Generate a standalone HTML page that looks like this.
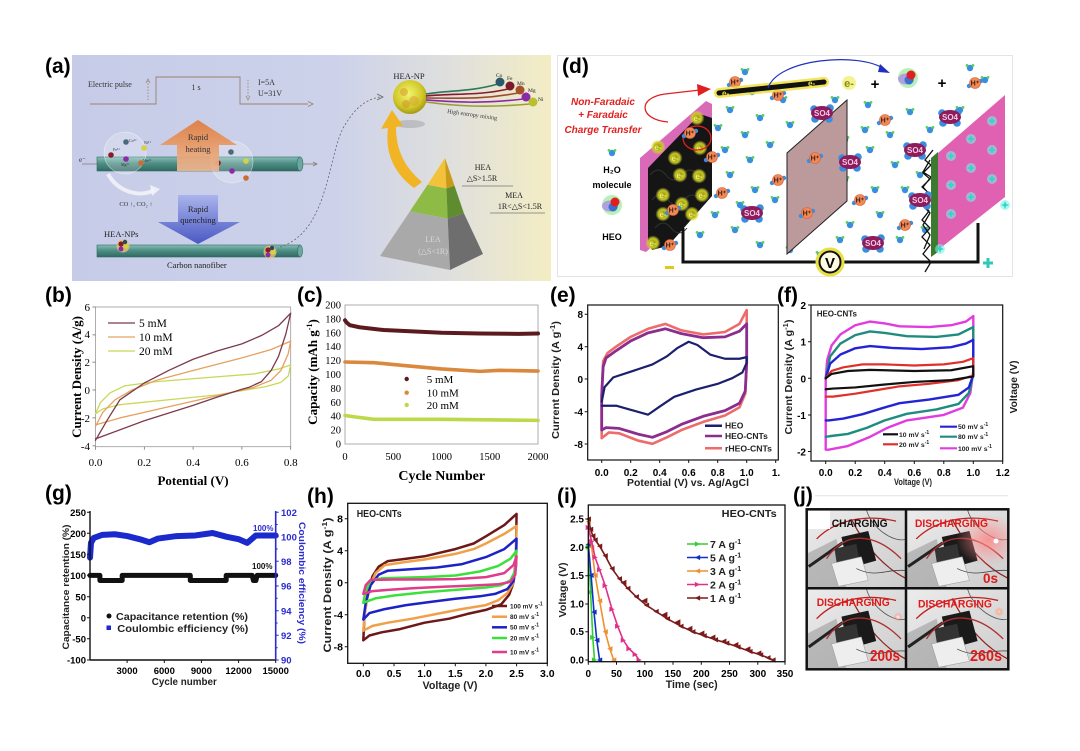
<!DOCTYPE html>
<html><head><meta charset="utf-8"><style>
html,body{margin:0;padding:0;background:#fff;}
svg{display:block}
text{font-family:"Liberation Sans",sans-serif;}
.sf,.sf text,text.sf{font-family:"Liberation Serif",serif;}
.bd{font-weight:bold;}
.ln{fill:none;vector-effect:non-scaling-stroke;stroke-linejoin:round;stroke-linecap:round;}
</style></head><body>
<svg width="1080" height="751" viewBox="0 0 1080 751" xmlns="http://www.w3.org/2000/svg">
<defs>
<linearGradient id="agrad" x1="0" x2="1" y1="0" y2="0"><stop offset="0" stop-color="#c6cce8"/><stop offset="0.55" stop-color="#cdd2ea"/><stop offset="0.8" stop-color="#e0e0dc"/><stop offset="1" stop-color="#f3edc4"/></linearGradient>
<linearGradient id="tube" x1="0" x2="0" y1="0" y2="1"><stop offset="0" stop-color="#86c0b8"/><stop offset="0.45" stop-color="#4f8f86"/><stop offset="1" stop-color="#2f6a62"/></linearGradient>
<linearGradient id="og" x1="0" x2="0" y1="0" y2="1"><stop offset="0" stop-color="#e07a3a"/><stop offset="1" stop-color="#f0b890"/></linearGradient>
<linearGradient id="bg" x1="0" x2="0" y1="0" y2="1"><stop offset="0" stop-color="#aab4ec"/><stop offset="1" stop-color="#4a58c4"/></linearGradient>
<radialGradient id="ball" cx="0.45" cy="0.4" r="0.6"><stop offset="0" stop-color="#f4f470"/><stop offset="0.7" stop-color="#d0c828"/><stop offset="1" stop-color="#a89818"/></radialGradient>
<radialGradient id="yg"><stop offset="0" stop-color="#8a8a10"/><stop offset="0.6" stop-color="#c8c820"/><stop offset="1" stop-color="#e8e840" stop-opacity="0"/></radialGradient>
<radialGradient id="pg" cx="0.5" cy="0.5" r="0.5"><stop offset="0" stop-color="#ff8080" stop-opacity="0.8"/><stop offset="1" stop-color="#ff9090" stop-opacity="0"/></radialGradient>
<linearGradient id="phbg" x1="0" x2="1" y1="0" y2="1"><stop offset="0" stop-color="#ececec"/><stop offset="1" stop-color="#cccccc"/></linearGradient>
<clipPath id="c2"><rect x="906" y="509.3" width="102.3" height="79"/></clipPath>
<g id="w"><circle r="3.2" fill="#3a8ee0"/><circle cx="-3" cy="-2.6" r="1.4" fill="#5ad05a"/><circle cx="3" cy="-2.6" r="1.4" fill="#5ad05a"/></g>
<g id="hp"><circle cx="-6" cy="3" r="2.2" fill="#3a8ee0"/><circle cx="6" cy="-2" r="2.2" fill="#3a8ee0"/><circle r="5.5" fill="#f08858" stroke="#d86038" stroke-width="0.6"/></g>
<g id="so"><circle cx="-8" cy="-4" r="3.8" fill="#3a8ee0"/><circle cx="8" cy="-5" r="3.8" fill="#3a8ee0"/><circle cx="-7" cy="6" r="3.8" fill="#3a8ee0"/><circle cx="7" cy="6" r="3.8" fill="#3a8ee0"/><ellipse rx="11" ry="7" fill="#8c1c5c"/></g>
<g id="heo"><circle r="10" fill="#60e060" opacity=".45"/><ellipse cx="-2" cy="1" rx="8" ry="5.5" fill="#b0a0e0"/><circle cx="1" cy="2" r="4.5" fill="#3a70d0"/><circle cx="3" cy="-3" r="4.5" fill="#e02020"/></g>
<g id="dm"><circle r="5" fill="#7ff0e8" opacity=".6"/><polygon points="0,-4 1.6,0 0,4 -1.6,0" fill="#30d8c8"/><polygon points="-4,0 0,-1.6 4,0 0,1.6" fill="#30d8c8"/></g>
<g id="eg"><circle r="7.5" fill="url(#yg)"/></g>
<symbol id="ph" viewBox="0 0 100 80" preserveAspectRatio="none">
<rect width="100" height="80" fill="url(#phbg)"/>
<polygon points="0,45 30,30 40,80 0,80" fill="#888" opacity=".45"/>
<path d="M45,10 C60,40 80,60 100,70" stroke="#902020" stroke-width="1.2" fill="none"/>
<polygon points="35,28 62,22 70,52 42,60" fill="#1a1a1a"/>
<polygon points="28,40 50,35 55,62 32,66" fill="#333"/>
<polygon points="25,55 55,48 62,72 32,78" fill="#eeeeee" stroke="#999" stroke-width="0.5"/>
<line x1="2" y1="58" x2="36" y2="34" stroke="#222" stroke-width="3"/>
<path d="M10,30 C30,10 60,5 90,12" stroke="#c02020" stroke-width="1.3" fill="none"/>
<path d="M20,50 C40,20 70,25 95,50" stroke="#b03030" stroke-width="1.3" fill="none"/>
<path d="M60,0 C65,20 90,35 100,30" stroke="#555" stroke-width="0.8" fill="none"/>
<path d="M50,60 C70,70 80,60 100,62" stroke="#444" stroke-width="0.8" fill="none"/>
</symbol>
<marker id="mL1" viewBox="-4 -4 8 8" markerWidth="7" markerHeight="7" markerUnits="userSpaceOnUse"><path d="M-3,0 L3,-3 L3,3Z" fill="#7a1a1a"/></marker>
<marker id="mR2" viewBox="-4 -4 8 8" markerWidth="7" markerHeight="7" markerUnits="userSpaceOnUse"><path d="M3,0 L-3,-3 L-3,3Z" fill="#e0308a"/></marker>
<marker id="mL3" viewBox="-4 -4 8 8" markerWidth="7" markerHeight="7" markerUnits="userSpaceOnUse"><path d="M-3,0 L3,-3 L3,3Z" fill="#f09030"/></marker>
<marker id="mL5" viewBox="-4 -4 8 8" markerWidth="7" markerHeight="7" markerUnits="userSpaceOnUse"><path d="M-3,0 L3,-3 L3,3Z" fill="#1030c8"/></marker>
<marker id="mR7" viewBox="-4 -4 8 8" markerWidth="7" markerHeight="7" markerUnits="userSpaceOnUse"><path d="M3,0 L-3,-3 L-3,3Z" fill="#30d030"/></marker>
</defs>
<rect width="1080" height="751" fill="#fff"/>

<!-- ============ PANEL A ============ -->
<rect x="72" y="55" width="479" height="226" fill="url(#agrad)"/>
<polyline points="90,104 156,104 156,77 240,77 240,104 308,104" fill="none" stroke="#9a8070" stroke-width="0.9"/>
<path d="M308,101.5 L313,104 L308,106.5" fill="none" stroke="#9a8070" stroke-width="0.9"/>
<line x1="148" y1="100" x2="148" y2="81" stroke="#9a8070" stroke-dasharray="1.5,1.5" stroke-width="0.8"/>
<path d="M146,83 L148,79 L150,83" fill="none" stroke="#9a8070" stroke-width="0.7"/>
<line x1="248" y1="80" x2="248" y2="98" stroke="#9a8070" stroke-dasharray="1.5,1.5" stroke-width="0.8"/>
<path d="M246,96 L248,100 L250,96" fill="none" stroke="#9a8070" stroke-width="0.7"/>
<text x="88" y="87" class="sf" font-size="8" fill="#333">Electric pulse</text>
<text x="196" y="90" class="sf" font-size="8" fill="#333" text-anchor="middle">1 s</text>
<text x="258" y="85" class="sf" font-size="8" fill="#333">I=5A</text>
<text x="258" y="96" class="sf" font-size="8" fill="#333">U=31V</text>
<line x1="82" y1="164" x2="97" y2="164" stroke="#8a7a70" stroke-width="0.8"/>
<text x="79" y="162" class="sf" font-size="7" fill="#333">e⁻</text>
<rect x="97" y="157" width="203" height="14" fill="url(#tube)" stroke="#2f6a62" stroke-width="0.6"/>
<ellipse cx="300" cy="164" rx="3" ry="7" fill="#6aa8a0" stroke="#2f6a62" stroke-width="0.6"/>
<line x1="303" y1="164" x2="316" y2="164" stroke="#8a7a70" stroke-width="0.8"/>
<path d="M313,162 L317,164 L313,166" fill="none" stroke="#8a7a70" stroke-width="0.8"/>
<circle cx="125" cy="153" r="21" fill="#fff" fill-opacity="0.22" stroke="#fff" stroke-opacity="0.6" stroke-width="0.6"/>
<circle cx="232" cy="162" r="21" fill="#fff" fill-opacity="0.22" stroke="#fff" stroke-opacity="0.6" stroke-width="0.6"/>
<circle cx="111" cy="155" r="2.8" fill="#8a1a2a"/><circle cx="126" cy="142" r="2.8" fill="#4a6a7a"/><circle cx="144" cy="148" r="2.8" fill="#d8d040"/><circle cx="126" cy="159" r="2.8" fill="#8a2aa8"/><circle cx="141" cy="163" r="2.8" fill="#c87030"/>
<circle cx="218" cy="163" r="2.8" fill="#8a1a2a"/><circle cx="231" cy="152" r="2.8" fill="#4a6a7a"/><circle cx="246" cy="161" r="2.8" fill="#d8d040"/><circle cx="232" cy="171" r="2.8" fill="#8a2aa8"/><circle cx="246" cy="178" r="2.8" fill="#c87030"/>
<text x="113" y="151" class="sf" font-size="4" fill="#333">Fe²⁺</text><text x="129" y="142" class="sf" font-size="4" fill="#333">Co²⁺</text><text x="144" y="144" class="sf" font-size="4" fill="#333">Ni²⁺</text><text x="121" y="166" class="sf" font-size="4" fill="#333">Mg²⁺</text><text x="143" y="162" class="sf" font-size="4" fill="#333">Mn²⁺</text>
<polygon points="198,120 237,145 219,145 219,171 177,171 177,145 160,145" fill="url(#og)" opacity=".92"/>
<text x="198" y="140" class="sf" font-size="8.5" fill="#333" text-anchor="middle">Rapid</text>
<text x="198" y="152" class="sf" font-size="8.5" fill="#333" text-anchor="middle">heating</text>
<path d="M108,174 C118,192 140,198 154,190" stroke="#f4f4f8" stroke-width="4" fill="none" opacity=".85"/>
<polygon points="150,185 160,189 152,196" fill="#f4f4f8" opacity=".85"/>
<text x="136" y="206" class="sf" font-size="6.5" fill="#333" text-anchor="middle">CO ↑, CO₂ ↑</text>
<polygon points="178,195 218,195 218,222 240,222 198,244 158,222 178,222" fill="url(#bg)"/>
<text x="198" y="212" class="sf" font-size="8.5" fill="#222" text-anchor="middle">Rapid</text>
<text x="198" y="223" class="sf" font-size="8.5" fill="#222" text-anchor="middle">quenching</text>
<rect x="97" y="245" width="203" height="12" fill="url(#tube)" stroke="#2f6a62" stroke-width="0.6"/>
<ellipse cx="300" cy="251" rx="2.5" ry="6" fill="#6aa8a0" stroke="#2f6a62" stroke-width="0.6"/>
<circle cx="123" cy="246" r="6.5" fill="#e8c070" opacity=".8"/><circle cx="121" cy="244" r="2.6" fill="#8a1a2a"/><circle cx="126" cy="246" r="2.6" fill="#d8d040"/><circle cx="121" cy="249" r="2.4" fill="#8a2aa8"/><circle cx="125" cy="242" r="2.2" fill="#2a4a5a"/>
<circle cx="270" cy="252" r="6.5" fill="#e8c070" opacity=".8"/><circle cx="268" cy="250" r="2.6" fill="#8a1a2a"/><circle cx="273" cy="252" r="2.6" fill="#d8d040"/><circle cx="268" cy="255" r="2.4" fill="#8a2aa8"/><circle cx="272" cy="248" r="2.2" fill="#2a4a5a"/>
<text x="104" y="237" class="sf" font-size="8.5" fill="#222">HEA-NPs</text>
<text x="167" y="268" class="sf" font-size="8.5" fill="#222">Carbon nanofiber</text>
<path d="M280,247 C330,232 328,150 345,125 C356,106 368,99 380,97" stroke="#666" stroke-dasharray="2,2" stroke-width="0.8" fill="none"/>
<path d="M377,94 L383,97 L377,100" fill="none" stroke="#666" stroke-width="0.8"/>
<ellipse cx="410" cy="124" rx="15" ry="4" fill="#888" opacity=".35"/>
<circle cx="410" cy="97" r="17" fill="url(#ball)"/>
<circle cx="404" cy="92" r="4" fill="#d8a030" opacity=".6"/><circle cx="414" cy="101" r="5" fill="#d8a030" opacity=".5"/><circle cx="406" cy="104" r="4" fill="#c8902a" opacity=".5"/>
<text x="409" y="79" class="sf" font-size="8.5" fill="#222" text-anchor="middle">HEA-NP</text>
<path d="M426,94 C450,90 470,92 498,84" stroke="#2a7a5a" stroke-width="1.6" fill="none"/>
<path d="M426,96 C455,93 478,96 508,89" stroke="#8a1a2a" stroke-width="1.6" fill="none"/>
<path d="M426,98 C455,98 480,100 518,93" stroke="#a04a2a" stroke-width="1.6" fill="none"/>
<path d="M426,100 C455,102 482,104 523,99" stroke="#8a2aa8" stroke-width="1.6" fill="none"/>
<path d="M426,102 C455,106 485,108 530,104" stroke="#9aa030" stroke-width="1.6" fill="none"/>
<circle cx="500" cy="82" r="4.5" fill="#2a5a6a"/><circle cx="510" cy="86" r="4.5" fill="#7a1a2a"/><circle cx="520" cy="90" r="4.5" fill="#a8502a"/><circle cx="526" cy="97" r="4.5" fill="#8a2aa8"/><circle cx="533" cy="102" r="4.5" fill="#b8c030"/>
<text x="496" y="77" class="sf" font-size="5.5" fill="#222">Co</text><text x="507" y="80" class="sf" font-size="5.5" fill="#222">Fe</text><text x="517" y="85" class="sf" font-size="5.5" fill="#222">Mn</text><text x="528" y="92" class="sf" font-size="5.5" fill="#222">Mg</text><text x="538" y="101" class="sf" font-size="5.5" fill="#222">Ni</text>
<text x="447" y="113" class="sf" font-size="6" fill="#333" transform="rotate(8 447 113)">High entropy mixing</text>
<path d="M414,188 C392,172 385,150 388,128 L381,129 L392,110 L403,126 L396,127 C396,148 403,166 422,182 Z" fill="#f0b424"/>
<polygon points="445,158 427.5,184.9 446.4,188.5" fill="#f2c23a"/>
<polygon points="445,158 446.4,188.5 454.5,185.8" fill="#c99a1a"/>
<polygon points="427.5,184.9 409.9,211.4 447.7,218.6 446.4,188.5" fill="#8dbb45"/>
<polygon points="446.4,188.5 447.7,218.6 463.9,213.2 454.5,185.8" fill="#5e8c2e"/>
<polygon points="409.9,211.4 380,256 450,270 447.7,218.6" fill="#a9a9a9"/>
<polygon points="447.7,218.6 450,270 483,254 463.9,213.2" fill="#6e6e6e"/>
<text x="483" y="170" class="sf" font-size="8" fill="#222" text-anchor="middle">HEA</text>
<text x="482" y="181" class="sf" font-size="8" fill="#222" text-anchor="middle">△S&gt;1.5R</text>
<line x1="462" y1="186" x2="513" y2="186" stroke="#777" stroke-width="0.7"/>
<text x="514" y="198" class="sf" font-size="8" fill="#222" text-anchor="middle">MEA</text>
<text x="520" y="209" class="sf" font-size="8" fill="#222" text-anchor="middle">1R&lt;△S&lt;1.5R</text>
<line x1="490" y1="213" x2="545" y2="213" stroke="#777" stroke-width="0.7"/>
<text x="433" y="242" class="sf" font-size="8" fill="#d8d8d8" text-anchor="middle">LEA</text>
<text x="433" y="254" class="sf" font-size="8" fill="#d8d8d8" text-anchor="middle">(△S&lt;1R)</text>
<text x="45" y="73" font-size="21" class="bd">(a)</text>

<!-- ============ PANEL D ============ -->
<rect x="557.5" y="55.5" width="455" height="221" fill="#fff" stroke="#e4e4e4"/>
<text x="562" y="73" font-size="21" class="bd">(d)</text>
<g>
<use href="#w" x="730" y="110"/><use href="#w" x="760" y="118"/><use href="#w" x="745" y="135"/><use href="#w" x="790" y="125"/><use href="#w" x="812" y="140"/><use href="#w" x="835" y="100"/><use href="#w" x="868" y="105"/><use href="#w" x="890" y="135"/><use href="#w" x="910" y="112"/><use href="#w" x="930" y="130"/><use href="#w" x="960" y="110"/><use href="#w" x="725" y="150"/><use href="#w" x="750" y="160"/><use href="#w" x="770" y="145"/><use href="#w" x="795" y="175"/><use href="#w" x="830" y="185"/><use href="#w" x="845" y="140"/><use href="#w" x="870" y="150"/><use href="#w" x="895" y="165"/><use href="#w" x="920" y="175"/><use href="#w" x="940" y="160"/><use href="#w" x="730" y="175"/><use href="#w" x="755" y="190"/><use href="#w" x="775" y="200"/><use href="#w" x="800" y="230"/><use href="#w" x="825" y="215"/><use href="#w" x="840" y="240"/><use href="#w" x="880" y="215"/><use href="#w" x="900" y="240"/><use href="#w" x="925" y="230"/><use href="#w" x="735" y="230"/><use href="#w" x="760" y="245"/><use href="#w" x="790" y="250"/><use href="#w" x="820" y="255"/><use href="#w" x="850" y="225"/><use href="#w" x="875" y="190"/><use href="#w" x="905" y="190"/><use href="#w" x="715" y="215"/><use href="#w" x="740" y="205"/><use href="#w" x="700" y="235"/><use href="#w" x="718" y="128"/><use href="#w" x="865" y="130"/><use href="#w" x="845" y="180"/><use href="#w" x="752" y="92"/><use href="#w" x="745" y="72"/><use href="#w" x="783" y="100"/><use href="#w" x="970" y="68"/><use href="#w" x="985" y="80"/><use href="#w" x="612" y="153"/>
</g>
<polygon points="640,158 706,101 712,104 712,194 646,252 640,250" fill="#d86ab8"/>
<polygon points="648,168 700,114 712,118 712,196 668,246 652,250 648,240" fill="#151515"/>
<path d="M650,175 q8,-10 16,0 t16,0 t16,0 M652,200 q8,-10 16,0 t16,0 t16,0 M655,228 q8,-10 16,0 t16,0" stroke="#333" stroke-width="1" fill="none"/>
<use href="#eg" x="697" y="118"/><use href="#eg" x="658" y="147"/><use href="#eg" x="675" y="158"/><use href="#eg" x="700" y="148"/><use href="#eg" x="680" y="175"/><use href="#eg" x="699" y="176"/><use href="#eg" x="663" y="195"/><use href="#eg" x="702" y="195"/><use href="#eg" x="682" y="204"/><use href="#eg" x="663" y="214"/><use href="#eg" x="692" y="214"/><use href="#eg" x="653" y="243"/>
<g font-size="8" fill="#f0f070" text-anchor="middle" class="bd">
<text x="697" y="121">e-</text><text x="658" y="150">e-</text><text x="675" y="161">e-</text><text x="700" y="151">e-</text><text x="680" y="178">e-</text><text x="699" y="179">e-</text><text x="663" y="198">e-</text><text x="702" y="198">e-</text><text x="682" y="207">e-</text><text x="663" y="217">e-</text><text x="692" y="217">e-</text><text x="653" y="246">e-</text>
</g>
<ellipse cx="697" cy="138" rx="14" ry="12" fill="none" stroke="#e02020" stroke-width="1.3"/>
<polygon points="787,153 847,100 847,201 787,254" fill="#bc9a9c" stroke="#222" stroke-width="1"/>
<path d="M933,150 l-8,10 l6,5 l-8,8 l7,6 l-8,8 l8,7 l-9,9 l8,8 l-7,9 l8,8 l-8,9 l8,8 l-7,9 l8,8 l-6,10 M930,160 l-7,12 l8,5 l-8,10 l7,8 l-8,10 l8,8 l-7,12 l7,10 l-6,14" stroke="#111" stroke-width="1.3" fill="none"/>
<polygon points="931,158 938,152 938,252 931,257" fill="#3c7a30"/>
<polygon points="938,153 1005,95 1005,197 938,250" fill="#e060b2"/>
<use href="#dm" x="951" y="156"/><use href="#dm" x="951" y="185"/><use href="#dm" x="951" y="214"/><use href="#dm" x="971" y="139"/><use href="#dm" x="971" y="168"/><use href="#dm" x="971" y="197"/><use href="#dm" x="992" y="121"/><use href="#dm" x="992" y="150"/><use href="#dm" x="992" y="179"/><use href="#dm" x="1005" y="205"/><use href="#dm" x="940" y="249"/>
<path d="M683,228 V262 H978 V223" stroke="#111" stroke-width="3" fill="none"/>
<circle cx="830" cy="262" r="13" fill="#fff8b0" stroke="#e8e040" stroke-width="3"/>
<circle cx="830" cy="262" r="10.5" fill="#fffbe0" stroke="#111" stroke-width="2"/>
<text x="830" y="268" font-size="15" class="bd" text-anchor="middle">V</text>
<rect x="665" y="266" width="9" height="3" fill="#e0c820"/>
<path d="M988,258 V268 M983,263 H993" stroke="#30c8b8" stroke-width="3"/>
<use href="#so" x="822" y="113"/><use href="#so" x="950" y="117"/><use href="#so" x="850" y="162"/><use href="#so" x="915" y="150"/><use href="#so" x="752" y="213"/><use href="#so" x="873" y="243"/><use href="#so" x="920" y="200"/>
<g font-size="8" fill="#f4c8e4" class="bd" text-anchor="middle">
<text x="822" y="116">SO4</text><text x="950" y="120">SO4</text><text x="850" y="165">SO4</text><text x="915" y="153">SO4</text><text x="752" y="216">SO4</text><text x="873" y="246">SO4</text><text x="920" y="203">SO4</text>
</g>
<use href="#hp" x="735" y="82"/><use href="#hp" x="778" y="95"/><use href="#hp" x="975" y="83"/><use href="#hp" x="885" y="120"/><use href="#hp" x="690" y="133"/><use href="#hp" x="712" y="157"/><use href="#hp" x="815" y="158"/><use href="#hp" x="778" y="180"/><use href="#hp" x="722" y="193"/><use href="#hp" x="673" y="210"/><use href="#hp" x="860" y="200"/><use href="#hp" x="807" y="213"/><use href="#hp" x="905" y="225"/><use href="#hp" x="670" y="245"/>
<g font-size="7" fill="#402010" class="bd" text-anchor="middle">
<text x="735" y="84.5">H⁺</text><text x="778" y="97.5">H⁺</text><text x="975" y="85.5">H⁺</text><text x="885" y="122.5">H⁺</text><text x="690" y="135.5">H⁺</text><text x="712" y="159.5">H⁺</text><text x="815" y="160.5">H⁺</text><text x="778" y="182.5">H⁺</text><text x="722" y="195.5">H⁺</text><text x="673" y="212.5">H⁺</text><text x="860" y="202.5">H⁺</text><text x="807" y="215.5">H⁺</text><text x="905" y="227.5">H⁺</text><text x="670" y="247.5">H⁺</text>
</g>
<line x1="719" y1="93" x2="824" y2="82" stroke="#f0e040" stroke-width="10" stroke-linecap="round" opacity=".85"/>
<line x1="719" y1="93" x2="824" y2="82" stroke="#111" stroke-width="5" stroke-linecap="round"/>
<text x="722" y="96" font-size="8" fill="#e8e040" class="bd">e-</text><text x="808" y="86" font-size="8" fill="#e8e040" class="bd">e-</text>
<path d="M768,88 C778,58 860,52 884,69" stroke="#2030c0" stroke-width="1.2" fill="none"/>
<polygon points="880,64 890,73 878,72" fill="#2030c0"/>
<circle cx="849" cy="83" r="7" fill="#f0f060" opacity=".7"/>
<text x="849" y="87" font-size="11" fill="#8a8a20" class="bd" text-anchor="middle">e-</text>
<text x="875" y="89" font-size="15" class="bd" text-anchor="middle">+</text>
<use href="#heo" x="908" y="78"/>
<text x="942" y="88" font-size="15" class="bd" text-anchor="middle">+</text>
<path d="M668,122 C640,120 636,98 665,94 L700,90" stroke="#e02020" stroke-width="1.3" fill="none"/>
<polygon points="697,84 711,89 698,96" fill="#e02020"/>
<g fill="#e02020" font-size="10" font-style="italic" class="bd" text-anchor="middle">
<text x="603" y="105">Non-Faradaic</text><text x="603" y="118">+ Faradaic</text><text x="603" y="133">Charge Transfer</text>
</g>
<text x="612" y="173" font-size="9" class="bd" text-anchor="middle">H₂O</text>
<text x="612" y="188" font-size="9" class="bd" text-anchor="middle">molecule</text>
<use href="#heo" x="612" y="205"/>
<text x="612" y="240" font-size="9" class="bd" text-anchor="middle">HEO</text>

<!-- ============ PANEL B ============ -->
<text x="45" y="302" font-size="21" class="bd">(b)</text>
<rect x="95.5" y="307" width="195.2" height="139.7" fill="none" stroke="#999" stroke-width="0.8"/>
<g stroke="#666" stroke-width="0.7"><path d="M95.5,307h-3M95.5,334.9h-3M95.5,362.1h-3M95.5,390h-3M95.5,417.9h-3M95.5,445.9h-3M95.5,446.7v3M144.3,446.7v3M193.1,446.7v3M241.9,446.7v3M290.7,446.7v3"/></g>
<g class="sf" font-size="11" text-anchor="end">
<text x="90" y="311">6</text><text x="90" y="338">4</text><text x="90" y="366">2</text><text x="90" y="394">0</text><text x="90" y="422">-2</text><text x="90" y="450">-4</text>
</g>
<g class="sf" font-size="11" text-anchor="middle">
<text x="95.5" y="466">0.0</text><text x="144.3" y="466">0.2</text><text x="193.1" y="466">0.4</text><text x="241.9" y="466">0.6</text><text x="290.7" y="466">0.8</text>
</g>
<text x="193" y="485" class="sf bd" font-size="13" text-anchor="middle">Potential (V)</text>
<text transform="translate(81,377) rotate(-90)" class="sf bd" font-size="13" text-anchor="middle">Current Density (A/g)</text>
<g transform="matrix(244 0 0 -13.97 95.5 390)">
<polyline class="ln" stroke="#c8d858" stroke-width="1.3" points="0,-1.7 0.02,-0.9 0.06,-0.2 0.12,0.3 0.25,0.6 0.5,0.95 0.65,1.15 0.75,1.5 0.8,1.8 0.79,1.0 0.76,0.55 0.7,0.25 0.5,-0.35 0.3,-0.7 0.1,-1.05 0.03,-1.35 0,-1.7"/>
<polyline class="ln" stroke="#e6a060" stroke-width="1.3" points="0,-2.6 0.03,-1.6 0.08,-0.7 0.15,0 0.25,0.7 0.4,1.4 0.6,2.3 0.72,2.9 0.8,3.5 0.79,2.6 0.76,1.4 0.72,0.7 0.65,0.2 0.5,-0.4 0.3,-1.2 0.1,-2.0 0,-2.5"/>
<polyline class="ln" stroke="#7b3b4b" stroke-width="1.3" points="0,-3.6 0.05,-2.1 0.1,-0.7 0.2,0.5 0.3,1.4 0.4,2.2 0.5,2.8 0.6,3.3 0.68,3.9 0.75,4.6 0.8,5.5 0.78,4.0 0.75,2.4 0.72,1.4 0.68,0.6 0.63,0.2 0.6,0.05 0.5,-0.5 0.4,-1.1 0.2,-2.2 0,-3.5"/>
</g>
<line x1="108" y1="323" x2="135" y2="323" stroke="#7b3b4b" stroke-width="1.3"/>
<line x1="108" y1="337" x2="135" y2="337" stroke="#e6a060" stroke-width="1.3"/>
<line x1="108" y1="351" x2="135" y2="351" stroke="#c8d858" stroke-width="1.3"/>
<g class="sf" font-size="11.5"><text x="139" y="327">5 mM</text><text x="139" y="341">10 mM</text><text x="139" y="355">20 mM</text></g>

<!-- ============ PANEL C ============ -->
<text x="297" y="302" font-size="21" class="bd">(c)</text>
<rect x="345" y="305" width="193" height="139" fill="none" stroke="#999" stroke-width="0.8"/>
<g class="sf" font-size="10.5" text-anchor="end">
<text x="341" y="447.5">0</text><text x="341" y="433.6">20</text><text x="341" y="419.7">40</text><text x="341" y="405.8">60</text><text x="341" y="391.9">80</text><text x="341" y="378">100</text><text x="341" y="364.1">120</text><text x="341" y="350.2">140</text><text x="341" y="336.3">160</text><text x="341" y="322.4">180</text><text x="341" y="308.5">200</text>
</g>
<g class="sf" font-size="10.5" text-anchor="middle">
<text x="345" y="460">0</text><text x="393.3" y="460">500</text><text x="441.5" y="460">1000</text><text x="489.8" y="460">1500</text><text x="538" y="460">2000</text>
</g>
<text x="441.7" y="480" class="sf bd" font-size="14" text-anchor="middle">Cycle Number</text>
<text transform="translate(317,372) rotate(-90)" class="sf bd" font-size="13" text-anchor="middle">Capacity (mAh g<tspan dy="-5" font-size="8">-1</tspan><tspan dy="5">)</tspan></text>
<g transform="matrix(0.0965 0 0 -0.695 345 444)">
<polyline class="ln" stroke="#5b1a1e" stroke-width="4" points="0,178 15,175 50,171 150,168 400,164 700,162 1000,160 1400,159 1800,158.5 2000,159"/>
<polyline class="ln" stroke="#d9883c" stroke-width="3.6" points="0,118 300,117 600,113 1000,108 1400,104.5 1600,106 2000,105"/>
<polyline class="ln" stroke="#bdd84a" stroke-width="3.6" points="0,41 100,39 300,35.5 1000,35.5 2000,34"/>
</g>
<circle cx="406.7" cy="379" r="2.2" fill="#5b1a1e"/><circle cx="406.7" cy="392.7" r="2.2" fill="#d9883c"/><circle cx="406.7" cy="405" r="2.2" fill="#bdd84a"/>
<g class="sf" font-size="11"><text x="426.7" y="383">5 mM</text><text x="426.7" y="396.7">10 mM</text><text x="426.7" y="409">20 mM</text></g>

<!-- ============ PANEL E ============ -->
<text x="550" y="302" font-size="21" class="bd">(e)</text>
<g transform="matrix(145 0 0 -8.1 601.7 379)">
<polyline class="ln" stroke="#ee6b6b" stroke-width="2.6" points="0,-7.3 0,-2 0.01,2.2 0.04,3.2 0.1,4.0 0.2,5.2 0.32,6.2 0.44,6.8 0.55,6.0 0.7,5.5 0.85,5.8 0.95,6.8 1.0,8.5 1.0,2.0 0.99,-1.8 0.95,-3.5 0.85,-4.5 0.7,-5.3 0.55,-6.3 0.45,-7.2 0.35,-8.0 0.25,-7.6 0.12,-6.7 0.05,-6.6 0,-7.3"/>
<polyline class="ln" stroke="#8b2c8f" stroke-width="2.8" points="0,-6.2 0,-2 0.01,1.5 0.03,2.6 0.1,3.5 0.2,4.7 0.32,5.7 0.44,6.2 0.55,5.6 0.7,5.1 0.85,5.2 0.95,5.9 1.0,6.8 1.0,2.0 0.99,-1.5 0.95,-3.0 0.85,-3.9 0.7,-4.6 0.55,-5.6 0.45,-6.5 0.35,-7.2 0.25,-6.8 0.12,-6.1 0.03,-6.0 0,-6.3"/>
<polyline class="ln" stroke="#1c1f6e" stroke-width="2.2" points="0,-2.8 0.02,-1.0 0.08,0.2 0.2,0.9 0.35,1.8 0.45,2.8 0.52,3.8 0.6,4.6 0.66,4.2 0.75,3.0 0.85,2.5 0.95,2.5 1.0,2.7 1.0,2.0 0.97,0.8 0.9,0.1 0.8,-0.6 0.65,-1.3 0.5,-2.2 0.4,-3.4 0.32,-4.4 0.2,-3.8 0.1,-3.3 0,-3.3"/>
</g>
<rect x="587.7" y="305" width="190.6" height="155" fill="none" stroke="#111" stroke-width="1.2"/>
<g stroke="#111" stroke-width="1"><path d="M587.7,314.3h-3M587.7,346.7h-3M587.7,379h-3M587.7,411.7h-3M587.7,444h-3M601.7,460v3M630.7,460v3M659.7,460v3M688.7,460v3M717.7,460v3M746.7,460v3M775.7,460v3"/></g>
<g font-size="10" class="bd" text-anchor="end"><text x="583" y="318">8</text><text x="583" y="350.5">4</text><text x="583" y="383">0</text><text x="583" y="415.5">-4</text><text x="583" y="448">-8</text></g>
<g font-size="10" class="bd" text-anchor="middle"><text x="601.7" y="476">0.0</text><text x="630.7" y="476">0.2</text><text x="659.7" y="476">0.4</text><text x="688.7" y="476">0.6</text><text x="717.7" y="476">0.8</text><text x="746.7" y="476">1.0</text><text x="776" y="476">1.</text></g>
<text x="688" y="486" font-size="10" class="bd" text-anchor="middle" fill="#222" textLength="122" lengthAdjust="spacingAndGlyphs">Potential (V) vs. Ag/AgCl</text>
<text transform="translate(559,380) rotate(-90)" font-size="10" class="bd" text-anchor="middle" fill="#222" textLength="118" lengthAdjust="spacingAndGlyphs">Current Density (A g<tspan dy="-4" font-size="7">-1</tspan><tspan dy="4">)</tspan></text>
<line x1="705" y1="425.7" x2="722" y2="425.7" stroke="#1c1f6e" stroke-width="2.5"/>
<line x1="705" y1="436" x2="722" y2="436" stroke="#8b2c8f" stroke-width="2.5"/>
<line x1="705" y1="448.3" x2="722" y2="448.3" stroke="#ee6b6b" stroke-width="2.5"/>
<g font-size="8.5" class="bd" fill="#222"><text x="725" y="428.7">HEO</text><text x="725" y="439">HEO-CNTs</text><text x="725" y="451.3" textLength="47" lengthAdjust="spacingAndGlyphs">rHEO-CNTs</text></g>

<!-- ============ PANEL F ============ -->
<text x="777" y="302" font-size="21" class="bd">(f)</text>
<g transform="matrix(147.6 0 0 -36.6 825.7 378.3)">
<polyline class="ln" stroke="#e03ce0" stroke-width="2.4" points="0,0 0.01,0.5 0.04,0.9 0.1,1.2 0.2,1.45 0.3,1.55 0.4,1.5 0.5,1.42 0.7,1.4 0.85,1.45 0.95,1.55 1.0,1.7 1.0,0.2 0.98,-0.4 0.93,-0.8 0.8,-1.0 0.55,-1.15 0.42,-1.35 0.3,-1.6 0.15,-1.85 0.02,-1.95 0,-1.95 0,0"/>
<polyline class="ln" stroke="#1f8c80" stroke-width="2.4" points="0,0 0.03,0.6 0.1,0.95 0.2,1.18 0.3,1.28 0.4,1.24 0.55,1.15 0.75,1.13 0.9,1.2 1.0,1.4 1.0,0.1 0.97,-0.4 0.9,-0.7 0.75,-0.85 0.55,-0.97 0.4,-1.15 0.28,-1.35 0.15,-1.52 0.03,-1.58 0,-1.6"/>
<polyline class="ln" stroke="#2424d4" stroke-width="2.4" points="0,0 0.03,0.4 0.1,0.65 0.2,0.82 0.3,0.88 0.45,0.83 0.65,0.8 0.85,0.85 0.95,0.95 1.0,1.05 1.0,0.1 0.97,-0.25 0.9,-0.45 0.7,-0.58 0.5,-0.68 0.38,-0.82 0.25,-0.98 0.12,-1.1 0.02,-1.15 0,-1.15"/>
<polyline class="ln" stroke="#e0302c" stroke-width="2.2" points="0,0 0.04,0.2 0.12,0.3 0.25,0.38 0.4,0.38 0.6,0.35 0.8,0.38 0.93,0.45 1.0,0.55 1.0,0.08 0.9,-0.05 0.7,-0.15 0.5,-0.22 0.35,-0.32 0.2,-0.42 0.05,-0.5 0,-0.5"/>
<polyline class="ln" stroke="#111" stroke-width="2.2" points="0,0 0.04,0.12 0.15,0.2 0.3,0.23 0.6,0.2 0.85,0.22 1.0,0.33 1.0,0.05 0.85,-0.05 0.6,-0.1 0.4,-0.17 0.2,-0.25 0.05,-0.28 0,-0.3"/>
</g>
<rect x="811" y="305" width="191.7" height="156" fill="none" stroke="#111" stroke-width="1.2"/>
<g stroke="#111" stroke-width="1"><path d="M811,305h-3M811,341.7h-3M811,378.3h-3M811,415h-3M811,451.5h-3M825.7,461v3M855.2,461v3M884.7,461v3M914.3,461v3M943.8,461v3M973.3,461v3M1002.7,461v3"/></g>
<g font-size="10" class="bd" text-anchor="end"><text x="806" y="309">2</text><text x="806" y="345.7">1</text><text x="806" y="382.3">0</text><text x="806" y="419">-1</text><text x="806" y="455.7">-2</text></g>
<g font-size="10" class="bd" text-anchor="middle"><text x="825.7" y="476">0.0</text><text x="855.2" y="476">0.2</text><text x="884.7" y="476">0.4</text><text x="914.3" y="476">0.6</text><text x="943.8" y="476">0.8</text><text x="973.3" y="476">1.0</text><text x="1002.7" y="476">1.2</text></g>
<text x="913" y="485" font-size="9" class="bd" text-anchor="middle" fill="#222" textLength="38" lengthAdjust="spacingAndGlyphs">Voltage (V)</text>
<text transform="translate(792,377) rotate(-90)" font-size="10" class="bd" text-anchor="middle" fill="#222" textLength="115" lengthAdjust="spacingAndGlyphs">Current Density (A g<tspan dy="-4" font-size="7">-1</tspan><tspan dy="4">)</tspan></text>
<text transform="translate(1017,387) rotate(-90)" font-size="10" class="bd" text-anchor="middle" fill="#222" textLength="53" lengthAdjust="spacingAndGlyphs">Voltage (V)</text>
<text x="816.7" y="316.5" font-size="8" class="bd" fill="#222">HEO-CNTs</text>
<line x1="883" y1="434.3" x2="898" y2="434.3" stroke="#111" stroke-width="2.2"/>
<line x1="883" y1="444.3" x2="898" y2="444.3" stroke="#e0302c" stroke-width="2.2"/>
<line x1="940" y1="426.7" x2="957" y2="426.7" stroke="#2424d4" stroke-width="2.2"/>
<line x1="940" y1="436.7" x2="957" y2="436.7" stroke="#1f8c80" stroke-width="2.2"/>
<line x1="940" y1="448.3" x2="957" y2="448.3" stroke="#e03ce0" stroke-width="2.2"/>
<g font-size="6.8" class="bd" fill="#222"><text x="899" y="436.8">10 mV s<tspan dy="-3" font-size="5">-1</tspan></text><text x="899" y="446.8">20 mV s<tspan dy="-3" font-size="5">-1</tspan></text><text x="958" y="429.2">50 mV s<tspan dy="-3" font-size="5">-1</tspan></text><text x="958" y="439.2">80 mV s<tspan dy="-3" font-size="5">-1</tspan></text><text x="958" y="450.8">100 mV s<tspan dy="-3" font-size="5">-1</tspan></text></g>

<!-- ============ PANEL G ============ -->
<text x="45" y="500" font-size="21" class="bd">(g)</text>
<g transform="matrix(0.01238 0 0 -12.33 90 1769.7)">
<polyline class="ln" stroke="#1a2acc" stroke-width="6" points="0,98.3 80,99.5 300,99.9 1000,100.15 2000,100.2 3000,100.05 4000,99.8 4800,99.55 5500,99.85 7000,100.05 8500,100.1 9900,100.3 11000,100.0 12000,99.8 12700,99.5 13400,100.1 15000,100.1"/>
</g>
<g transform="matrix(0.01238 0 0 -0.4227 90 617.7)">
<polyline class="ln" stroke="#111" stroke-width="5" stroke-linecap="butt" stroke-linejoin="miter" points="0,100 800,100 800,88 2600,88 2600,100 8100,100 8100,88 11000,88 11000,100 13100,100 13200,88 13400,88 13500,100 15000,100"/>
</g>
<line x1="90" y1="511" x2="90" y2="660" stroke="#111" stroke-width="1.4"/>
<line x1="90" y1="660" x2="276" y2="660" stroke="#111" stroke-width="1.4"/>
<line x1="275.7" y1="511" x2="275.7" y2="660" stroke="#2a2ad0" stroke-width="1.6"/>
<g stroke="#111" stroke-width="1"><path d="M90,512.3h-3M90,533.3h-3M90,554.3h-3M90,575.3h-3M90,596.7h-3M90,617.7h-3M90,638.7h-3M90,660h-3M127.1,660v3M164.3,660v3M201.4,660v3M238.6,660v3M275.7,660v3"/></g>
<g stroke="#2a2ad0" stroke-width="1"><path d="M275.7,512.3h3M275.7,536.7h3M275.7,561.3h3M275.7,586h3M275.7,610.7h3M275.7,635.3h3M275.7,660h3M275.7,524.5h2M275.7,549h2M275.7,573.7h2M275.7,598.3h2M275.7,623h2M275.7,647.7h2"/></g>
<g font-size="9.5" class="bd" text-anchor="end"><text x="86" y="516">250</text><text x="86" y="537">200</text><text x="86" y="558">150</text><text x="86" y="579">100</text><text x="86" y="600.4">50</text><text x="86" y="621.4">0</text><text x="86" y="642.4">-50</text><text x="86" y="663.7">-100</text></g>
<g font-size="9.5" class="bd" fill="#2a2ad0"><text x="281" y="516">102</text><text x="281" y="540.4">100</text><text x="281" y="565">98</text><text x="281" y="589.7">96</text><text x="281" y="614.4">94</text><text x="281" y="639">92</text><text x="281" y="663.7">90</text></g>
<g font-size="9.5" class="bd" text-anchor="middle"><text x="127.1" y="674">3000</text><text x="164.3" y="674">6000</text><text x="201.4" y="674">9000</text><text x="238.6" y="674">12000</text><text x="275.7" y="674">15000</text></g>
<text x="184.3" y="685" font-size="10.5" class="bd" text-anchor="middle" fill="#222" textLength="65" lengthAdjust="spacingAndGlyphs">Cycle number</text>
<text transform="translate(69,587) rotate(-90)" font-size="9.5" class="bd" text-anchor="middle" fill="#222" textLength="125" lengthAdjust="spacingAndGlyphs">Capacitance retention (%)</text>
<text transform="translate(299,583) rotate(90)" font-size="9.5" class="bd" text-anchor="middle" fill="#2a2ad0" textLength="122" lengthAdjust="spacingAndGlyphs">Coulombic efficiency (%)</text>
<text x="252" y="569" font-size="8" class="bd" fill="#111">100%</text>
<text x="253" y="531" font-size="8" class="bd" fill="#2a2ad0">100%</text>
<circle cx="109" cy="616" r="2.5" fill="#111"/>
<rect x="106.5" y="625.5" width="4.5" height="4.5" fill="#1a2acc"/>
<text x="116" y="620" font-size="10.5" class="bd" fill="#222" textLength="132" lengthAdjust="spacingAndGlyphs">Capacitance retention (%)</text>
<text x="117.3" y="632" font-size="10.5" class="bd" fill="#222" textLength="131" lengthAdjust="spacingAndGlyphs">Coulombic  efficiency (%)</text>

<!-- ============ PANEL H ============ -->
<text x="307" y="503" font-size="21" class="bd">(h)</text>
<g transform="matrix(61.3 0 0 -8 363.3 582.7)">
<polyline class="ln" stroke="#6e1818" stroke-width="2.5" points="0,-7.2 0.02,-4 0.08,-1 0.15,0.8 0.25,2.0 0.4,2.7 0.7,3.0 1.0,3.3 1.5,4.2 1.8,4.9 2.0,5.8 2.3,7.2 2.5,8.6 2.49,3 2.45,0 2.38,-1.5 2.25,-2.7 2.0,-3.4 1.7,-3.9 1.4,-4.5 1.0,-5.0 0.6,-5.8 0.3,-6.2 0.1,-6.6 0,-7.2"/>
<polyline class="ln" stroke="#f0a048" stroke-width="2.5" points="0,-6.0 0.03,-3.5 0.1,-0.5 0.2,1.2 0.35,2.2 0.7,2.6 1.0,2.9 1.5,3.6 1.8,4.2 2.0,4.9 2.3,6.1 2.5,7.1 2.49,2.5 2.45,0 2.35,-1.3 2.2,-2.2 2.0,-2.8 1.6,-3.3 1.2,-3.9 0.8,-4.5 0.4,-5.0 0.15,-5.4 0,-6.0"/>
<polyline class="ln" stroke="#1c22c8" stroke-width="2.5" points="0,-4.6 0.04,-2.5 0.12,-0.3 0.25,1.0 0.4,1.5 0.8,1.7 1.2,1.9 1.6,2.3 2.0,3.2 2.3,4.2 2.5,5.5 2.49,2 2.45,0.2 2.35,-0.8 2.15,-1.4 1.9,-1.7 1.5,-2.0 1.1,-2.4 0.7,-2.8 0.35,-3.3 0.1,-3.8 0,-4.6"/>
<polyline class="ln" stroke="#3ce03c" stroke-width="2.5" points="0,-2.5 0.04,-1.0 0.12,0.3 0.3,0.55 1.0,0.7 1.5,0.9 1.9,1.4 2.2,2.1 2.4,3.0 2.5,4.0 2.48,1.5 2.4,0.3 2.25,-0.3 2.0,-0.6 1.5,-0.9 1.0,-1.2 0.5,-1.6 0.2,-1.95 0,-2.5"/>
<polyline class="ln" stroke="#e03c8c" stroke-width="2.5" points="0,-1.4 0.04,-0.3 0.12,0.35 0.5,0.4 1.0,0.4 1.5,0.45 2.0,0.7 2.3,1.2 2.45,2.2 2.5,3.3 2.48,1.0 2.4,0.1 2.2,-0.2 1.8,-0.35 1.3,-0.5 0.8,-0.7 0.4,-0.9 0.15,-1.05 0,-1.4"/>
</g>
<rect x="347.7" y="503.3" width="199.6" height="160" fill="none" stroke="#111" stroke-width="1.3"/>
<g stroke="#111" stroke-width="1"><path d="M347.7,518.7h-3M347.7,550.7h-3M347.7,582.7h-3M347.7,614.7h-3M347.7,646.7h-3M363.3,663.3v3M394,663.3v3M424.6,663.3v3M455.3,663.3v3M485.9,663.3v3M516.6,663.3v3M547.3,663.3v3"/></g>
<g font-size="10.5" class="bd" text-anchor="end"><text x="343" y="522.5">8</text><text x="343" y="554.5">4</text><text x="343" y="586.5">0</text><text x="343" y="618.5">-4</text><text x="343" y="650.5">-8</text></g>
<g font-size="10.5" class="bd" text-anchor="middle"><text x="363.3" y="677">0.0</text><text x="394" y="677">0.5</text><text x="424.6" y="677">1.0</text><text x="455.3" y="677">1.5</text><text x="485.9" y="677">2.0</text><text x="516.6" y="677">2.5</text><text x="547.3" y="677">3.0</text></g>
<text x="450" y="689" font-size="11" class="bd" text-anchor="middle" fill="#222" textLength="55" lengthAdjust="spacingAndGlyphs">Voltage (V)</text>
<text transform="translate(331,585) rotate(-90)" font-size="11" class="bd" text-anchor="middle" fill="#222" textLength="135" lengthAdjust="spacingAndGlyphs">Current Density (A g<tspan dy="-4" font-size="7.5">-1</tspan><tspan dy="4">)</tspan></text>
<text x="356.7" y="517" font-size="10" class="bd" fill="#222" textLength="45" lengthAdjust="spacingAndGlyphs">HEO-CNTs</text>
<line x1="492" y1="606" x2="507" y2="606" stroke="#6e1818" stroke-width="2.5"/>
<line x1="492" y1="616.7" x2="507" y2="616.7" stroke="#f0a048" stroke-width="2.5"/>
<line x1="492" y1="627.3" x2="507" y2="627.3" stroke="#1c22c8" stroke-width="2.5"/>
<line x1="492" y1="638" x2="507" y2="638" stroke="#3ce03c" stroke-width="2.5"/>
<line x1="492" y1="652" x2="507" y2="652" stroke="#e03c8c" stroke-width="2.5"/>
<g font-size="6.5" class="bd" fill="#222"><text x="510" y="608.3">100 mV s<tspan dy="-3" font-size="5">-1</tspan></text><text x="510" y="619">80 mV s<tspan dy="-3" font-size="5">-1</tspan></text><text x="510" y="629.6">50 mV s<tspan dy="-3" font-size="5">-1</tspan></text><text x="510" y="640.3">20 mV s<tspan dy="-3" font-size="5">-1</tspan></text><text x="510" y="654.3">10 mV s<tspan dy="-3" font-size="5">-1</tspan></text></g>

<!-- ============ PANEL I ============ -->
<text x="557" y="503" font-size="21" class="bd">(i)</text>
<polyline fill="none" stroke="#30d030" stroke-width="1.6" marker-start="url(#mR7)" marker-mid="url(#mR7)" marker-end="url(#mR7)" points="588.3,547.2 590.6,592.3 592.8,637.4 594.5,660"/>
<polyline fill="none" stroke="#1030c8" stroke-width="1.6" marker-start="url(#mL5)" marker-mid="url(#mL5)" marker-end="url(#mL5)" points="588.3,544.4 591.1,575.4 594.0,612.1 596.8,640.3 599.6,660"/>
<polyline fill="none" stroke="#f09030" stroke-width="1.6" marker-start="url(#mL3)" marker-mid="url(#mL3)" marker-end="url(#mL3)" points="588.3,521.8 591.7,547.2 595.1,575.4 599.6,600.8 605.2,631.8 609.8,648.7 613.7,660"/>
<polyline fill="none" stroke="#e0308a" stroke-width="1.6" marker-start="url(#mR2)" marker-mid="url(#mR2)" marker-end="url(#mR2)" points="588.3,527.5 591.7,541.6 595.1,557.4 599.6,569.8 605.2,585.6 612.0,609.2 617.7,626.2 623.3,640.3 629.0,648.7 635.2,654.4 639.1,660"/>
<polyline fill="none" stroke="#7a1a1a" stroke-width="1.6" marker-start="url(#mL1)" marker-mid="url(#mL1)" marker-end="url(#mL1)" points="588.3,519.0 590.6,529.2 592.8,535.9 595.1,539.9 599.6,546.1 605.2,555.7 612.0,568.6 619.4,578.8 627.8,588.4 636.3,596.8 646.5,605.3 656.1,611.5 667.4,618.8 680.9,626.2 692.8,631.8 704.1,635.7 715.4,639.7 726.7,643.1 738.0,647.0 749.9,651.5 760.6,654.9 767.9,657.7 773.0,660.0"/>
<g fill="#7a1a1a"><path d="M620.4,582.8l6,-3l0,6z M641.4,600.8l6,-3l0,6z M661.4,614.8l6,-3l0,6z M674.4,622.3l6,-3l0,6z M686.4,628.8l6,-3l0,6z M698.4,633.5l6,-3l0,6z M709.4,637.5l6,-3l0,6z M720.4,641.5l6,-3l0,6z M732.4,645l6,-3l0,6z M744.4,649.3l6,-3l0,6z M755.4,653.4l6,-3l0,6z"/></g>
<rect x="588.3" y="505" width="196.7" height="156.7" fill="none" stroke="#111" stroke-width="1.3"/>
<g stroke="#111" stroke-width="1"><path d="M588.3,519h-3M588.3,547.3h-3M588.3,575.7h-3M588.3,604h-3M588.3,631.7h-3M588.3,660h-3M588.3,661.7v3M616.5,661.7v3M644.8,661.7v3M673,661.7v3M701.3,661.7v3M729.5,661.7v3M757.8,661.7v3M785,661.7v3"/></g>
<g font-size="10" class="bd" text-anchor="end"><text x="584" y="522.5">2.5</text><text x="584" y="550.8">2.0</text><text x="584" y="579.2">1.5</text><text x="584" y="607.5">1.0</text><text x="584" y="635.2">0.5</text><text x="584" y="663.5">0.0</text></g>
<g font-size="10" class="bd" text-anchor="middle"><text x="588.3" y="677">0</text><text x="616.5" y="677">50</text><text x="644.8" y="677">100</text><text x="673" y="677">150</text><text x="701.3" y="677">200</text><text x="729.5" y="677">250</text><text x="757.8" y="677">300</text><text x="785" y="677">350</text></g>
<text x="691.7" y="688" font-size="11" class="bd" text-anchor="middle" fill="#222" textLength="52" lengthAdjust="spacingAndGlyphs">Time (sec)</text>
<text transform="translate(566,590) rotate(-90)" font-size="10.5" class="bd" text-anchor="middle" fill="#222" textLength="55" lengthAdjust="spacingAndGlyphs">Voltage (V)</text>
<text x="776.7" y="517" font-size="10.5" class="bd" text-anchor="end" fill="#222" textLength="55" lengthAdjust="spacingAndGlyphs">HEO-CNTs</text>
<polyline fill="none" stroke="#30d030" stroke-width="1.6" marker-mid="url(#mR7)" points="687,544 697.5,544 708,544"/>
<polyline fill="none" stroke="#1030c8" stroke-width="1.6" marker-mid="url(#mL5)" points="687,557.5 697.5,557.5 708,557.5"/>
<polyline fill="none" stroke="#f09030" stroke-width="1.6" marker-mid="url(#mL3)" points="687,571 697.5,571 708,571"/>
<polyline fill="none" stroke="#e0308a" stroke-width="1.6" marker-mid="url(#mR2)" points="687,584.5 697.5,584.5 708,584.5"/>
<polyline fill="none" stroke="#7a1a1a" stroke-width="1.6" marker-mid="url(#mL1)" points="687,598 697.5,598 708,598"/>
<g font-size="10.5" class="bd" fill="#222"><text x="710" y="548">7 A g<tspan dy="-4" font-size="7">-1</tspan></text><text x="710" y="561.5">5 A g<tspan dy="-4" font-size="7">-1</tspan></text><text x="710" y="575">3 A g<tspan dy="-4" font-size="7">-1</tspan></text><text x="710" y="588.5">2 A g<tspan dy="-4" font-size="7">-1</tspan></text><text x="710" y="602">1 A g<tspan dy="-4" font-size="7">-1</tspan></text></g>

<!-- ============ PANEL J ============ -->
<text x="793" y="502" font-size="21" class="bd">(j)</text>
<line x1="815" y1="495.7" x2="1008" y2="495.7" stroke="#e2e2e2" stroke-width="1"/>
<use href="#ph" x="806.7" y="509.3" width="99.3" height="79"/>
<use href="#ph" x="906" y="509.3" width="102.3" height="79"/>
<use href="#ph" x="806.7" y="588.3" width="99.3" height="81"/>
<use href="#ph" x="906" y="588.3" width="102.3" height="81"/>
<g clip-path="url(#c2)"><ellipse cx="988" cy="540" rx="32" ry="26" fill="url(#pg)"/></g>
<circle cx="996" cy="541" r="2.5" fill="#fff"/>
<circle cx="898" cy="617" r="5" fill="url(#pg)"/><circle cx="898" cy="617" r="1.8" fill="#ffe0d0"/>
<circle cx="999" cy="611.7" r="5" fill="url(#pg)"/><circle cx="999" cy="611.7" r="1.6" fill="#ffd080"/>
<rect x="808" y="511" width="22" height="18" fill="#fff"/>
<rect x="806.7" y="509.3" width="201.6" height="160" fill="none" stroke="#111" stroke-width="2.5"/>
<line x1="906" y1="509.3" x2="906" y2="669.3" stroke="#111" stroke-width="2.5"/>
<line x1="806.7" y1="588.3" x2="1008.3" y2="588.3" stroke="#111" stroke-width="2.5"/>
<text x="831.7" y="527" font-size="11" class="bd" fill="#111" textLength="56" lengthAdjust="spacingAndGlyphs">CHARGING</text>
<text x="915" y="527" font-size="11" class="bd" fill="#e01818" textLength="73" lengthAdjust="spacingAndGlyphs">DISCHARGING</text>
<text x="983" y="583" font-size="14" class="bd" fill="#e01818" textLength="15" lengthAdjust="spacingAndGlyphs">0s</text>
<text x="816.7" y="606" font-size="11" class="bd" fill="#e01818" textLength="73" lengthAdjust="spacingAndGlyphs">DISCHARGING</text>
<text x="918" y="607.5" font-size="11" class="bd" fill="#e01818" textLength="74" lengthAdjust="spacingAndGlyphs">DISCHARGING</text>
<text x="870" y="661" font-size="16" class="bd" fill="#e01818" textLength="30" lengthAdjust="spacingAndGlyphs">200s</text>
<text x="970" y="661" font-size="16" class="bd" fill="#e01818" textLength="32" lengthAdjust="spacingAndGlyphs">260s</text>
</svg>
</body></html>
